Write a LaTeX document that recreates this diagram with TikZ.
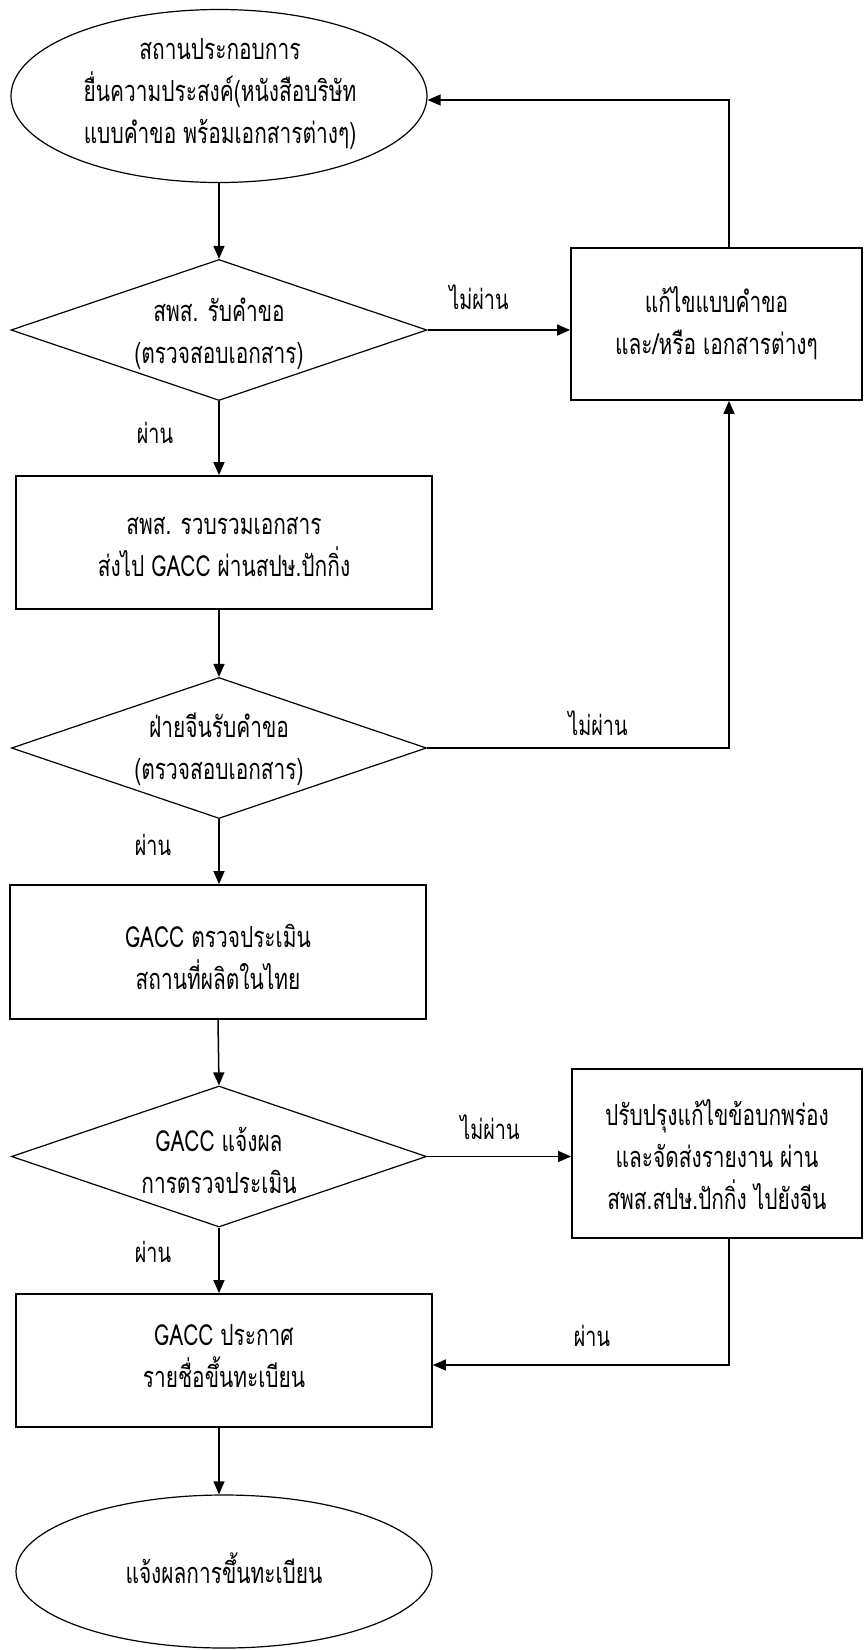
\documentclass[tikz,border=0pt]{standalone}
\usepackage{fontspec}
\newfontfamily\thai[Script=Thai,FakeStretch=0.72]{Loma}
\usetikzlibrary{shapes.geometric,arrows.meta}
\tikzset{
  x=1pt,y=-1pt,
  txt/.style={font=\thai\fontsize{29}{42}\selectfont,align=center,inner sep=0pt},
  procbox/.style={draw,line width=1.8pt,rectangle,inner sep=0pt},
  oval/.style={draw,line width=1.2pt,ellipse,inner sep=0pt},
  decide/.style={draw,line width=1.2pt,diamond,inner sep=0pt},
  conn/.style={line width=1.5pt,-{Triangle[length=13pt,width=11pt]}},
  lbl/.style={font=\thai\fontsize{27.5}{30}\selectfont,inner sep=0pt}
}
\begin{document}
\begin{tikzpicture}
\useasboundingbox (0,0) rectangle (864,1650);
% shapes
\node[oval,minimum width=416pt,minimum height=173pt] (e1) at (219,96) {};
\node[txt] (e1t) at (220,94) {สถานประกอบการ\\ยื่นความประสงค์(หนังสือบริษัท\\แบบคำขอ พร้อมเอกสารต่างๆ)};
\node[decide,minimum width=416pt,minimum height=141pt] (d1) at (219,330) {};
\node[txt] (d1t) at (219,334) {สพส. รับคำขอ\\(ตรวจสอบเอกสาร)};
\node[procbox,minimum width=291pt,minimum height=152pt] (b1) at (716.5,324) {};
\node[txt] (b1t) at (716.5,323) {แก้ไขแบบคำขอ\\และ/หรือ เอกสารต่างๆ};
\node[procbox,minimum width=416pt,minimum height=133pt] (b2) at (224,542.5) {};
\node[txt] (b2t) at (224,547) {สพส. รวบรวมเอกสาร\\ส่งไป GACC ผ่านสปษ.ปักกิ่ง};
\node[decide,minimum width=415pt,minimum height=141pt] (d2) at (219,748) {};
\node[txt] (d2t) at (219,749) {ฝ่ายจีนรับคำขอ\\(ตรวจสอบเอกสาร)};
\node[procbox,minimum width=416pt,minimum height=134pt] (b3) at (218,952) {};
\node[txt] (b3t) at (218,957) {GACC ตรวจประเมิน\\สถานที่ผลิตในไทย};
\node[decide,minimum width=415pt,minimum height=141pt] (d3) at (219,1156.5) {};
\node[txt] (d3t) at (219,1160) {GACC แจ้งผล\\การตรวจประเมิน};
\node[procbox,minimum width=290pt,minimum height=169pt] (b5) at (717,1153.5) {};
\node[txt] (b5t) at (717,1155) {ปรับปรุงแก้ไขข้อบกพร่อง\\และจัดส่งรายงาน ผ่าน\\สพส.สปษ.ปักกิ่ง ไปยังจีน};
\node[procbox,minimum width=416pt,minimum height=133pt] (b4) at (224,1360.5) {};
\node[txt] (b4t) at (224,1356) {GACC ประกาศ\\รายชื่อขึ้นทะเบียน};
\node[oval,minimum width=416pt,minimum height=153pt] (e2) at (224,1571.5) {};
\node[txt] (e2t) at (224,1568) {แจ้งผลการขึ้นทะเบียน};
% helper coordinates
\coordinate (t1) at (729,100);
\coordinate (t2) at (729,748);
\coordinate (t3) at (729,1365);
% connectors
\draw[conn] (e1.south) -- (d1.north);
\draw[conn] (d1.south) -- (d1.south |- b2.north);
\draw[conn] (d1.south |- b2.south) -- (d2.north);
\draw[conn] (d2.south) -- (d2.south |- b3.north);
\draw[conn] (b3.south) -- (d3.north);
\draw[conn] (d3.south) -- (d3.south |- b4.north);
\draw[conn] (d3.south |- b4.south) -- (d3.south |- e2.north);
\draw[conn] (d1.east) -- (d1.east -| b1.west);
\draw[conn] (b1.north -| t1) -- (t1) -- (e1.east |- t1);
\draw[conn] (d2.east) -- (t2) -- (b1.south -| t2);
\draw[conn] (d3.east) -- (d3.east -| b5.west);
\draw[conn] (b5.south -| t3) -- (t3) -- (b4.east |- t3);
% labels
\node[lbl] (l1) at (155,433) {ผ่าน};
\node[lbl] (l2) at (153,845) {ผ่าน};
\node[lbl] (l3) at (153,1252) {ผ่าน};
\node[lbl] (l4) at (479,297) {ไม่ผ่าน};
\node[lbl] (l5) at (598,723) {ไม่ผ่าน};
\node[lbl] (l6) at (490,1127) {ไม่ผ่าน};
\node[lbl] (l7) at (592,1336) {ผ่าน};
\end{tikzpicture}
\end{document}
